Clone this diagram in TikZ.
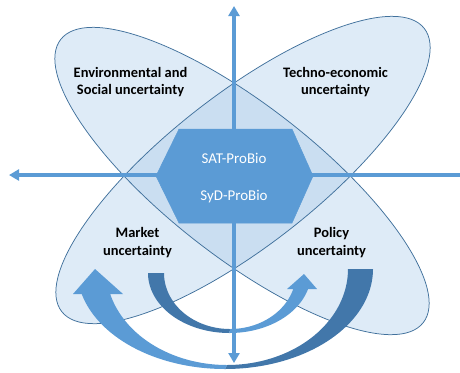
\documentclass[tikz,border=0pt]{standalone}
\usepackage{fontspec}
\setmainfont{Carlito}
\usetikzlibrary{arrows.meta}

\definecolor{lobe}{RGB}{222,235,247}
\definecolor{lobeover}{RGB}{202,222,241}
\definecolor{lobeedge}{RGB}{65,113,156}
\definecolor{accent}{RGB}{91,155,213}
\definecolor{accentdark}{RGB}{66,119,170}

\begin{document}
\begin{tikzpicture}[x=1bp,y=-1bp,
  lobeA/.style={rotate around={-38:(242,181)}},
  lobeB/.style={rotate around={38:(243,170)}},
  lobeline/.style={draw=lobeedge,line width=0.75bp},
  axis/.style={draw=accent,line width=3.5bp},
  lobetext/.style={font=\fontsize{14.5}{17.5}\selectfont\bfseries,align=center,text=black},
  coretext/.style={font=\fontsize{15}{18}\selectfont,text=white,anchor=base},
]
\useasboundingbox (0,0) rectangle (460,372);
\clip (0,0) rectangle (460,372);

% the two crossing ellipses and their common part
\fill[lobe,lobeA] (242,181) ellipse [x radius=230,y radius=75.6];
\fill[lobe,lobeB] (243,170) ellipse [x radius=230,y radius=75.6];
\begin{scope}
  \clip[lobeA] (242,181) ellipse [x radius=230,y radius=75.6];
  \fill[lobeover,lobeB] (243,170) ellipse [x radius=230,y radius=75.6];
\end{scope}
\path[lobeline,lobeA] (242,181) ellipse [x radius=230,y radius=75.6];
\path[lobeline,lobeB] (243,170) ellipse [x radius=230,y radius=75.6];

% large curved arrow: back face on the right, head on the left
\fill[accentdark]
  plot[domain=0:90,samples=40] ({225+148*cos(\x)},{269+100*sin(\x)})
  -- plot[domain=90:0,samples=40] ({227+121*cos(\x)},{269+96*sin(\x)}) -- cycle;
\fill[accent]
  plot[domain=90:165.5,samples=40] ({225+148*cos(\x)},{269+100*sin(\x)})
  -- (73,294) -- (95,269) -- (123,294)
  -- plot[domain=164.9:90,samples=40] ({227+121*cos(\x)},{269+96*sin(\x)}) -- cycle;

% small curved arrow: back face on the left, head on the right
\fill[accentdark]
  plot[domain=180:90,samples=40] ({229.5+81.5*cos(\x)},{273+60*sin(\x)})
  -- plot[domain=90:180,samples=40] ({230+66*cos(\x)},{273+56*sin(\x)}) -- cycle;
\fill[accent]
  plot[domain=90:15.47,samples=40] ({229.5+81.5*cos(\x)},{273+60*sin(\x)})
  -- (317,289) -- (304,274) -- (287,289)
  -- plot[domain=16.6:90,samples=40] ({230+66*cos(\x)},{273+56*sin(\x)}) -- cycle;

% axes
\coordinate (N) at (234,6);
\coordinate (S) at (234,363);
\coordinate (W) at (9,175);
\coordinate (E) at (462,175);
\draw[axis,{Triangle[width=11bp,length=10bp]}-{Triangle[width=11bp,length=10bp]}] (S) -- (N);
\draw[axis,-{Triangle[width=11bp,length=10bp]}] (E) -- (W);

% central hexagon
\coordinate (h1) at (179,129);
\coordinate (h2) at (292,129);
\coordinate (h3) at (313,176);
\coordinate (h4) at (292,223);
\coordinate (h5) at (179,223);
\coordinate (h6) at (156,176);
\filldraw[fill=accent,draw=accent,line width=0.5bp] (h1) -- (h2) -- (h3) -- (h4) -- (h5) -- (h6) -- cycle;

% labels
\node[lobetext] (env) at (130.5,82) {Environmental and\\Social uncertainty};
\node[lobetext] (tech) at (335.5,82) {Techno-economic\\uncertainty};
\node[lobetext] (mkt) at (137.5,242.5) {Market\\uncertainty};
\node[lobetext] (pol) at (331.5,242.5) {Policy\\uncertainty};
\node[coretext] (sat) at (234,163.3) {SAT-ProBio};
\node[coretext] (syd) at (234,200) {SyD-ProBio};
\end{tikzpicture}
\end{document}
